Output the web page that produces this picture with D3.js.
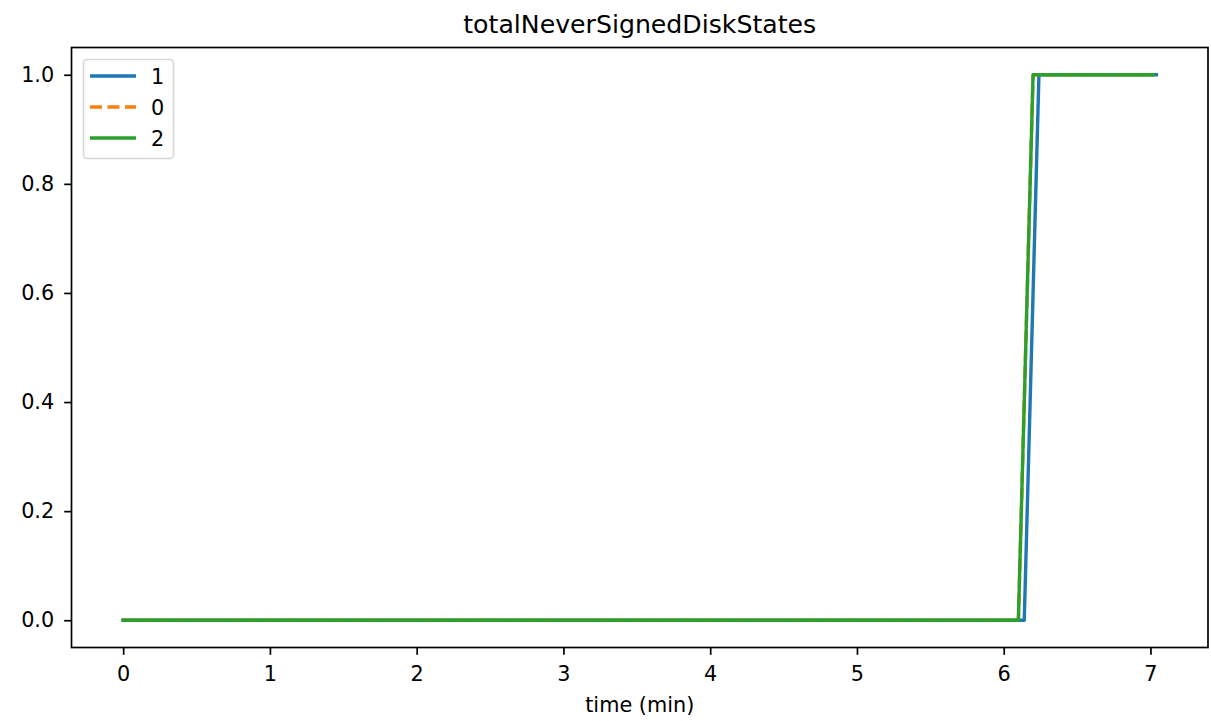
<!DOCTYPE html>
<html><head><meta charset="utf-8">
<script src="https://cdn.jsdelivr.net/npm/d3@7"></script>
<style>body{margin:0;background:#fff}svg{display:block}text{font-family:"DejaVu Sans",sans-serif;fill:#000}</style>
</head><body>
<svg id="c" width="1211" height="721"></svg>
<script>
const seriesNames = ["1", "0", "2"];
const colors = ["#1f77b4", "#ff7f0e", "#2ca02c"];
const time1 = [0, 6.14, 6.24, 7.04];
const vals1 = [0, 0, 1, 1];
const time0 = [0, 6.10, 6.20, 7.02];
const vals0 = [0, 0, 1, 1];
const time2 = [0, 6.10, 6.20, 7.02];
const vals2 = [0, 0, 1, 1];
const xTicks = [0, 1, 2, 3, 4, 5, 6, 7];
const yTicks = [0, 0.2, 0.4, 0.6, 0.8, 1.0];

const svg = d3.select("#c");
const L = 71.5, R = 1208, T = 47.5, B = 647.5;
const x = d3.scaleLinear().domain([-0.352, 7.392]).range([L, R]);
const y = d3.scaleLinear().domain([-0.05, 1.05]).range([B, T]);

const series = [
  {name: seriesNames[0], t: time1, v: vals1, color: colors[0], dash: null},
  {name: seriesNames[1], t: time0, v: vals0, color: colors[1], dash: "12,5.5"},
  {name: seriesNames[2], t: time2, v: vals2, color: colors[2], dash: null}
];
const line = d3.line().x(d => x(d[0])).y(d => y(d[1]));
series.forEach(s => {
  svg.append("path").datum(s.t.map((t, i) => [t, s.v[i]]))
    .attr("d", line).attr("fill", "none").attr("stroke", s.color)
    .attr("stroke-width", 3.4).attr("stroke-dasharray", s.dash)
    .attr("stroke-linecap", s.dash ? "butt" : "square").attr("stroke-linejoin", "round");
});

const xa = svg.append("g").attr("transform", `translate(0,${B})`)
  .call(d3.axisBottom(x).tickValues(xTicks).tickFormat(d3.format("d")).tickSize(7.3).tickPadding(11));
const ya = svg.append("g").attr("transform", `translate(${L},0)`)
  .call(d3.axisLeft(y).tickValues(yTicks).tickFormat(d3.format(".1f")).tickSize(7.3).tickPadding(10));
[xa, ya].forEach(a => {
  a.select(".domain").remove();
  a.selectAll("line").attr("stroke", "#000").attr("stroke-width", 1.7);
  a.selectAll("text").attr("font-size", null).style("font-size", "20.8px").style("font-family", "DejaVu Sans");
});
svg.append("rect").attr("x", L).attr("y", T).attr("width", R - L).attr("height", B - T)
  .attr("fill", "none").attr("stroke", "#000").attr("stroke-width", 1.7);

svg.append("text").attr("x", (L + R) / 2).attr("y", 33).attr("text-anchor", "middle")
  .style("font-size", "25.2px").text("totalNeverSignedDiskStates");
svg.append("text").attr("x", (L + R) / 2).attr("y", 712).attr("text-anchor", "middle")
  .style("font-size", "20.8px").text("time (min)");

const lg = svg.append("g");
lg.append("rect").attr("x", 83.5).attr("y", 59.5).attr("width", 90).attr("height", 99).attr("rx", 4)
  .attr("fill", "#fff").attr("fill-opacity", 0.8).attr("stroke", "#d6d6d6").attr("stroke-width", 1.6);
series.forEach((s, i) => {
  const yy = 76 + i * 31;
  lg.append("line").attr("x1", 90).attr("x2", 136).attr("y1", yy).attr("y2", yy)
    .attr("stroke", s.color).attr("stroke-width", 3.4).attr("stroke-dasharray", s.dash);
  lg.append("text").attr("x", 151).attr("y", yy + 7.5).style("font-size", "20.8px").text(s.name);
});
</script>
</body></html>
